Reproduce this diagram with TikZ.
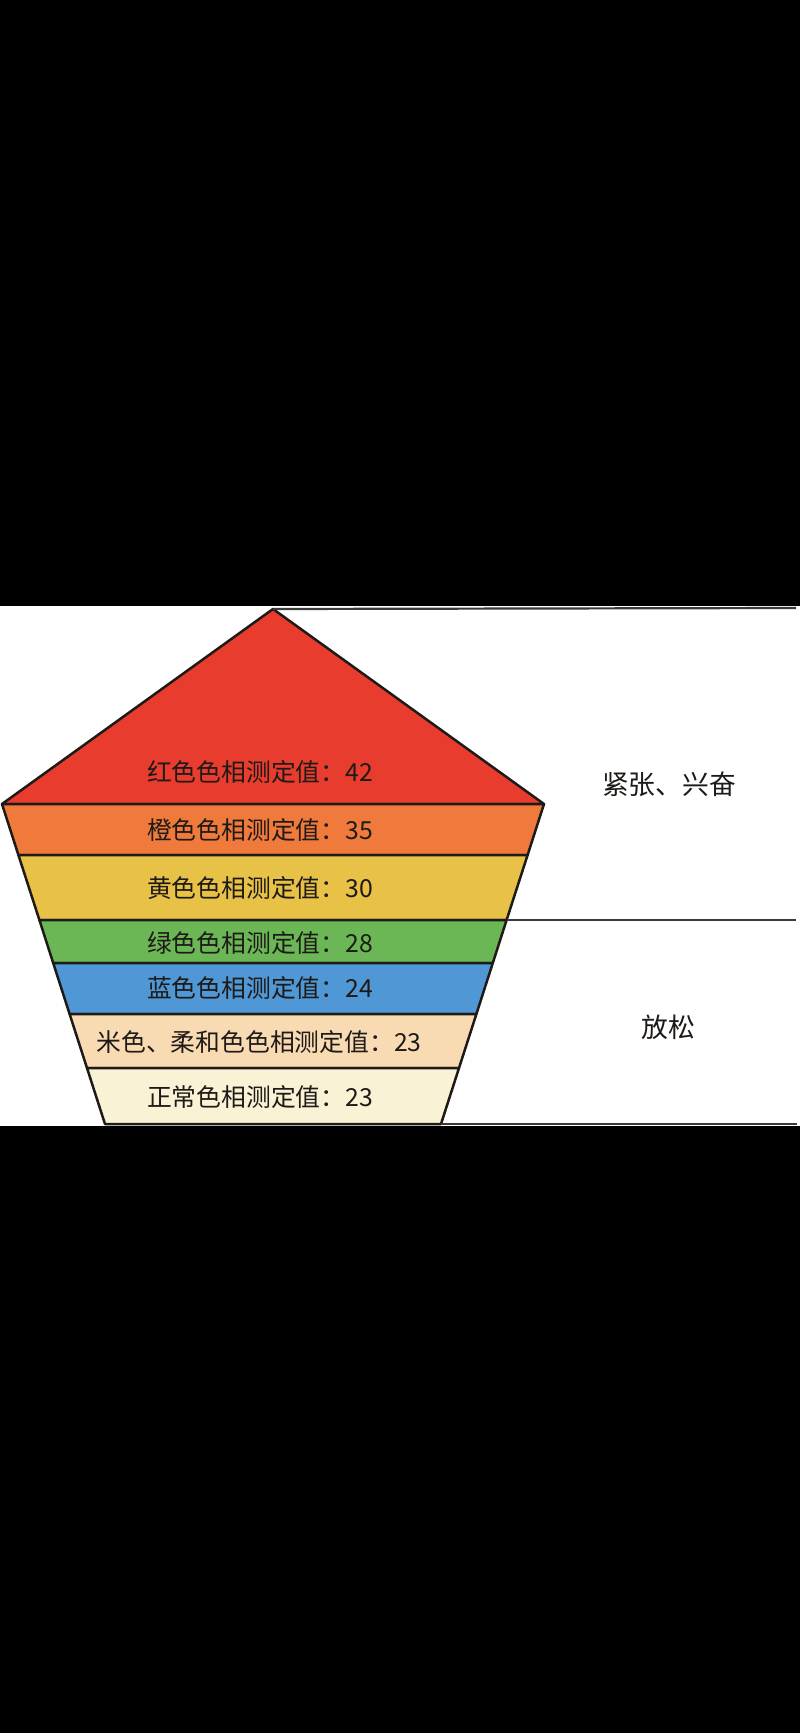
\documentclass[tikz,border=0pt]{standalone}
\usepackage{fontspec,xcolor}
\newfontfamily\cjk{Noto Sans CJK SC}
\definecolor{ink}{HTML}{1E1A17}
\definecolor{linie}{HTML}{3A3A3A}
\definecolor{hrot}{HTML}{E83C2E}
\definecolor{horange}{HTML}{F07A3B}
\definecolor{hgelb}{HTML}{E8C247}
\definecolor{hgruen}{HTML}{6CB755}
\definecolor{hblau}{HTML}{4F97D5}
\definecolor{hbeige}{HTML}{F9DBB3}
\definecolor{hcreme}{HTML}{FAF2D5}
\newcommand{\lbl}{\cjk\fontsize{12.4}{15}\selectfont}
\newcommand{\gross}{\cjk\fontsize{13.4}{16}\selectfont}
\tikzset{schicht/.style={draw=ink,line width=1.25pt,line join=round},
  trennlinie/.style={linie,line width=1.1pt},
  wert/.style={inner sep=0,text=ink,font=\lbl},
  stimmung/.style={inner sep=0,text=ink,font=\gross}}

\begin{document}
\begin{tikzpicture}[x=0.5pt,y=-0.5pt]
\useasboundingbox (0,0) rectangle (800,1733);
\fill[black] (0,0) rectangle (800,606);
\fill[black] (0,1126) rectangle (800,1733);
\fill[white] (0,606) rectangle (800,1126);
% Pyramide
\coordinate (spitze) at (273,609);
\filldraw[schicht,fill=hrot] (spitze) -- (544,804) -- (2,804) -- cycle;
\filldraw[schicht,fill=horange] (2,804) -- (544,804) -- (527.6,855) -- (18.4,855) -- cycle;
\filldraw[schicht,fill=hgelb] (18.4,855) -- (527.6,855) -- (506.6,920) -- (39.4,920) -- cycle;
\filldraw[schicht,fill=hgruen] (39.4,920) -- (506.6,920) -- (492.8,963) -- (53.2,963) -- cycle;
\filldraw[schicht,fill=hblau] (53.2,963) -- (492.8,963) -- (476.4,1014) -- (69.6,1014) -- cycle;
\filldraw[schicht,fill=hbeige] (69.6,1014) -- (476.4,1014) -- (459,1068) -- (87,1068) -- cycle;
\filldraw[schicht,fill=hcreme] (87,1068) -- (459,1068) -- (441,1124) -- (105,1124) -- cycle;
% Trennlinien rechts
\coordinate (oben) at (796,608);
\coordinate (mitteL) at (506.6,920);
\coordinate (mitteR) at (796,920);
\coordinate (untenL) at (441,1124);
\coordinate (untenR) at (797,1124);
\draw[trennlinie] (spitze) -- (oben);
\draw[trennlinie] (mitteL) -- (mitteR);
\draw[trennlinie] (untenL) -- (untenR);
% Werte
\node[wert] (rot) at (260,772) {红色色相测定值：42};
\node[wert] (orange) at (260,830) {橙色色相测定值：35};
\node[wert] (gelb) at (260,888) {黄色色相测定值：30};
\node[wert] (gruen) at (260,943) {绿色色相测定值：28};
\node[wert] (blau) at (260,988) {蓝色色相测定值：24};
\node[wert] (beige) at (259,1042) {米色、柔和色色相测定值：23};
\node[wert] (creme) at (260,1097) {正常色相测定值：23};
\node[stimmung] (spannung) at (669,784) {紧张、兴奋};
\node[stimmung] (ruhe) at (668,1027) {放松};
\end{tikzpicture}
\end{document}
